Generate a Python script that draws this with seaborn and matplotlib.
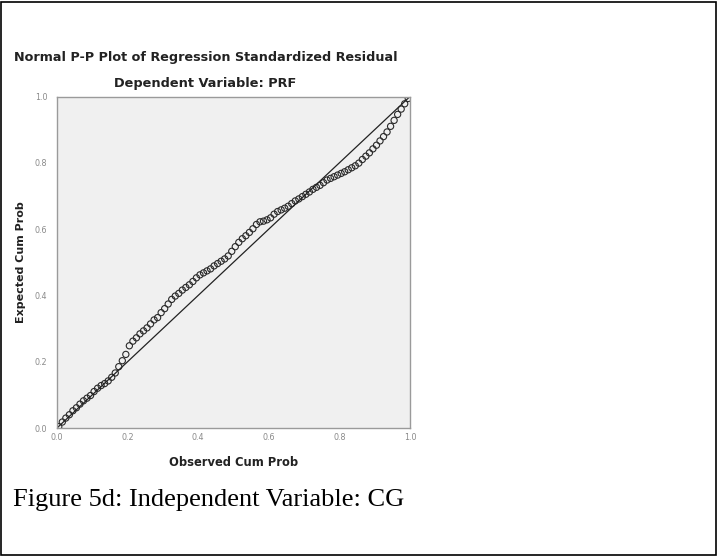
import matplotlib
matplotlib.use('Agg')
import matplotlib.pyplot as plt
from matplotlib.patches import Rectangle
import seaborn as sns
import pandas as pd

####### Data #######
# Observed cum prob (x) and expected cum prob (y)
observed_cum_prob = [0.005, 0.015, 0.025, 0.035, 0.045, 0.055, 0.065, 0.075, 0.085, 0.095,
    0.105, 0.115, 0.125, 0.135, 0.145, 0.155, 0.165, 0.175, 0.185, 0.195,
    0.205, 0.215, 0.225, 0.235, 0.245, 0.255, 0.265, 0.275, 0.285, 0.295,
    0.305, 0.315, 0.325, 0.335, 0.345, 0.355, 0.365, 0.375, 0.385, 0.395,
    0.405, 0.415, 0.425, 0.435, 0.445, 0.455, 0.465, 0.475, 0.485, 0.495,
    0.505, 0.515, 0.525, 0.535, 0.545, 0.555, 0.565, 0.575, 0.585, 0.595,
    0.605, 0.615, 0.625, 0.635, 0.645, 0.655, 0.665, 0.675, 0.685, 0.695,
    0.705, 0.715, 0.725, 0.735, 0.745, 0.755, 0.765, 0.775, 0.785, 0.795,
    0.805, 0.815, 0.825, 0.835, 0.845, 0.855, 0.865, 0.875, 0.885, 0.895,
    0.905, 0.915, 0.925, 0.935, 0.945, 0.955, 0.965, 0.975, 0.985, 0.995]
expected_cum_prob = [0.004, 0.018, 0.030, 0.040, 0.052, 0.061, 0.072, 0.082, 0.090, 0.098,
    0.110, 0.120, 0.128, 0.134, 0.142, 0.153, 0.166, 0.185, 0.203, 0.222,
    0.248, 0.262, 0.272, 0.284, 0.293, 0.302, 0.314, 0.326, 0.333, 0.348,
    0.360, 0.374, 0.388, 0.398, 0.406, 0.416, 0.424, 0.432, 0.442, 0.453,
    0.462, 0.468, 0.474, 0.480, 0.489, 0.496, 0.503, 0.510, 0.519, 0.533,
    0.547, 0.560, 0.571, 0.580, 0.590, 0.601, 0.614, 0.622, 0.624, 0.628,
    0.634, 0.645, 0.653, 0.658, 0.663, 0.669, 0.677, 0.685, 0.691, 0.698,
    0.705, 0.712, 0.720, 0.726, 0.732, 0.740, 0.748, 0.753, 0.758, 0.763,
    0.768, 0.773, 0.779, 0.785, 0.791, 0.799, 0.810, 0.820, 0.830, 0.842,
    0.853, 0.866, 0.879, 0.893, 0.910, 0.928, 0.946, 0.962, 0.978, 0.994]
diag_x = [0.0, 1.0]
diag_y = [0.0, 1.0]
tick_values = [0.0, 0.2, 0.4, 0.6, 0.8, 1.0]
tick_labels = ['0.0', '0.2', '0.4', '0.6', '0.8', '1.0']

PP_Data = pd.DataFrame({'Observed': observed_cum_prob, 'Expected': expected_cum_prob})
Diag_Data = pd.DataFrame({'x': diag_x, 'y': diag_y})

####### Plot #######
sns.set_style('white')
plt.rcParams['font.family'] = ['DejaVu Sans']

W, H = 718, 557
fig = plt.figure(figsize=(W / 100, H / 100), dpi=100)
ax = fig.add_axes([57 / W, 1 - 428 / H, 353 / W, 331.5 / H])
ax.set_facecolor('#f0f0f0')

sns.lineplot(data=Diag_Data, x='x', y='y', ax=ax, color='#222222', linewidth=0.9)
sns.scatterplot(data=PP_Data, x='Observed', y='Expected', ax=ax,
    s=20, facecolors='none', edgecolor='#2a2a2a', linewidth=0.8, marker='o')

ax.set_xlim(0, 1)
ax.set_ylim(0, 1)
ax.set_xticks(tick_values)
ax.set_yticks(tick_values)
ax.set_xticklabels(tick_labels, fontsize=5.8, color='#8a8a8a')
ax.set_yticklabels(tick_labels, fontsize=5.8, color='#8a8a8a')
ax.tick_params(axis='y', direction='out', length=5, width=0.8, color='#9a9a9a', pad=2)
ax.tick_params(axis='x', direction='inout', length=5, width=0.8, color='#9a9a9a', pad=1)
for sp in ax.spines.values():
    sp.set_color('#9a9a9a')
    sp.set_linewidth(1.0)

ax.set_xlabel('Observed Cum Prob', fontsize=8.3, fontweight='bold', color='#222222', labelpad=10)
ax.set_ylabel('Expected Cum Prob', fontsize=8.0, fontweight='bold', color='#222222', labelpad=6)

fig.text(206 / W, 1 - 58 / H, 'Normal P-P Plot of Regression Standardized Residual',
    ha='center', va='center', fontsize=9.2, fontweight='bold', color='#222222')
fig.text(205 / W, 1 - 83 / H, 'Dependent Variable: PRF',
    ha='center', va='center', fontsize=9.3, fontweight='bold', color='#222222')
fig.text(13 / W, 1 - 500 / H, 'Figure 5d: Independent Variable: CG',
    ha='left', va='center', fontsize=19, family=['Liberation Serif', 'DejaVu Serif'], color='black')

# outer frame
fig.patches.append(Rectangle((1 / W, 2 / H), (W - 3) / W, (H - 4) / H, transform=fig.transFigure,
    fill=False, edgecolor='black', linewidth=1.2))

fig.savefig('out.png', dpi=100)
